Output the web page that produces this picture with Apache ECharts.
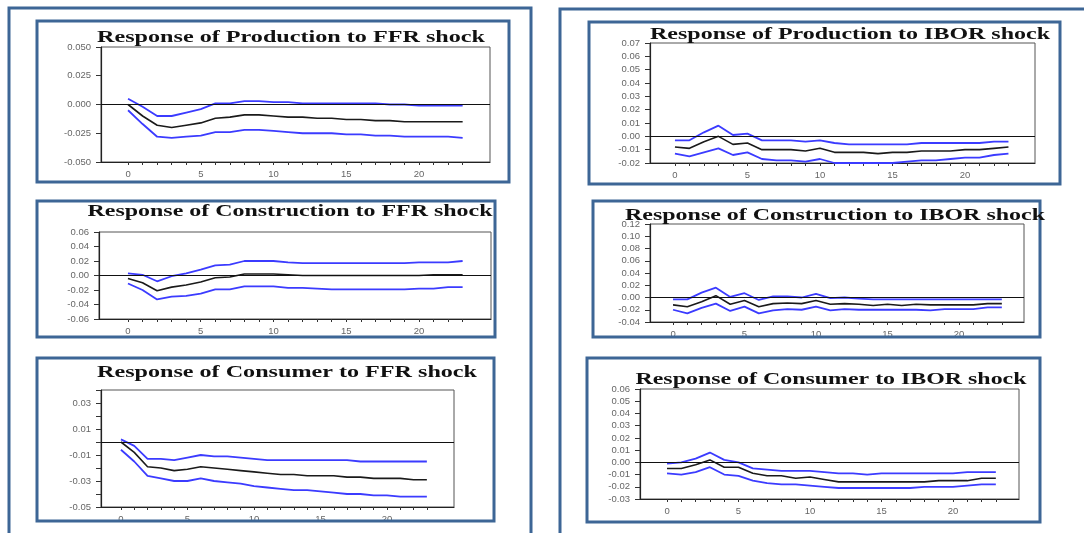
<!DOCTYPE html>
<html>
<head>
<meta charset="utf-8">
<script src="https://cdn.jsdelivr.net/npm/echarts@6/dist/echarts.min.js"></script>
<style>
  html, body { margin: 0; padding: 0; background: #ffffff; }
  #chart { width: 1084px; height: 533px; }
</style>
</head>
<body>
<div id="chart"></div>
<script>
// Impulse-response periods and axis labels
const periods = [0, 1, 2, 3, 4, 5, 6, 7, 8, 9, 10, 11, 12, 13, 14, 15, 16, 17, 18, 19, 20, 21, 22, 23];
const xTickValues = [0, 1, 2, 3, 4, 5, 6, 7, 8, 9, 10, 11, 12, 13, 14, 15, 16, 17, 18, 19, 20, 21, 22, 23];
const xLabelValues = [0, 5, 10, 15, 20];

// Response of Production to FFR shock
const prodFfrUpper = [0.005, -0.002, -0.010, -0.010, -0.007, -0.004, 0.001, 0.001, 0.003, 0.003, 0.002, 0.002, 0.001, 0.001, 0.001, 0.001, 0.001, 0.001, 0.000, 0.000, -0.001, -0.001, -0.001, -0.001];
const prodFfrMid   = [0.000, -0.010, -0.018, -0.020, -0.018, -0.016, -0.012, -0.011, -0.009, -0.009, -0.010, -0.011, -0.011, -0.012, -0.012, -0.013, -0.013, -0.014, -0.014, -0.015, -0.015, -0.015, -0.015, -0.015];
const prodFfrLower = [-0.005, -0.017, -0.028, -0.029, -0.028, -0.027, -0.024, -0.024, -0.022, -0.022, -0.023, -0.024, -0.025, -0.025, -0.025, -0.026, -0.026, -0.027, -0.027, -0.028, -0.028, -0.028, -0.028, -0.029];

// Response of Construction to FFR shock
const constFfrUpper = [0.003, 0.001, -0.008, -0.001, 0.003, 0.008, 0.014, 0.015, 0.020, 0.020, 0.020, 0.018, 0.017, 0.017, 0.017, 0.017, 0.017, 0.017, 0.017, 0.017, 0.018, 0.018, 0.018, 0.020];
const constFfrMid   = [-0.004, -0.010, -0.021, -0.016, -0.013, -0.009, -0.003, -0.002, 0.002, 0.002, 0.002, 0.001, 0.000, 0.000, 0.000, 0.000, 0.000, 0.000, 0.000, 0.000, 0.000, 0.001, 0.001, 0.001];
const constFfrLower = [-0.011, -0.020, -0.033, -0.029, -0.028, -0.025, -0.019, -0.019, -0.015, -0.015, -0.015, -0.017, -0.017, -0.018, -0.019, -0.019, -0.019, -0.019, -0.019, -0.019, -0.018, -0.018, -0.016, -0.016];

// Response of Consumer to FFR shock
const consFfrUpper = [0.002, -0.003, -0.013, -0.013, -0.014, -0.012, -0.010, -0.011, -0.011, -0.012, -0.013, -0.014, -0.014, -0.014, -0.014, -0.014, -0.014, -0.014, -0.015, -0.015, -0.015, -0.015, -0.015, -0.015];
const consFfrMid   = [0.000, -0.008, -0.019, -0.020, -0.022, -0.021, -0.019, -0.020, -0.021, -0.022, -0.023, -0.024, -0.025, -0.025, -0.026, -0.026, -0.026, -0.027, -0.027, -0.028, -0.028, -0.028, -0.029, -0.029];
const consFfrLower = [-0.006, -0.015, -0.026, -0.028, -0.030, -0.030, -0.028, -0.030, -0.031, -0.032, -0.034, -0.035, -0.036, -0.037, -0.037, -0.038, -0.039, -0.040, -0.040, -0.041, -0.041, -0.042, -0.042, -0.042];

// Response of Production to IBOR shock
const prodIborUpper = [-0.003, -0.003, 0.003, 0.008, 0.001, 0.002, -0.003, -0.003, -0.003, -0.004, -0.003, -0.005, -0.006, -0.006, -0.006, -0.006, -0.006, -0.005, -0.005, -0.005, -0.005, -0.005, -0.004, -0.004];
const prodIborMid   = [-0.008, -0.009, -0.004, 0.000, -0.006, -0.005, -0.010, -0.010, -0.010, -0.011, -0.009, -0.012, -0.012, -0.012, -0.013, -0.012, -0.012, -0.011, -0.011, -0.011, -0.010, -0.010, -0.009, -0.008];
const prodIborLower = [-0.013, -0.015, -0.012, -0.009, -0.014, -0.012, -0.017, -0.018, -0.018, -0.019, -0.017, -0.020, -0.020, -0.020, -0.020, -0.020, -0.019, -0.018, -0.018, -0.017, -0.016, -0.016, -0.014, -0.013];

// Response of Construction to IBOR shock
const constIborUpper = [-0.003, -0.003, 0.008, 0.016, 0.001, 0.007, -0.004, 0.002, 0.002, 0.000, 0.006, -0.001, 0.000, -0.002, -0.003, -0.003, -0.003, -0.003, -0.003, -0.003, -0.003, -0.003, -0.003, -0.003];
const constIborMid   = [-0.012, -0.015, -0.007, 0.003, -0.011, -0.005, -0.015, -0.010, -0.009, -0.010, -0.005, -0.011, -0.010, -0.011, -0.013, -0.011, -0.013, -0.011, -0.012, -0.012, -0.012, -0.012, -0.010, -0.010];
const constIborLower = [-0.020, -0.026, -0.017, -0.010, -0.022, -0.015, -0.026, -0.021, -0.019, -0.020, -0.015, -0.021, -0.019, -0.020, -0.020, -0.020, -0.020, -0.020, -0.021, -0.019, -0.019, -0.019, -0.016, -0.016];

// Response of Consumer to IBOR shock
const consIborUpper = [-0.001, 0.000, 0.003, 0.008, 0.002, 0.000, -0.005, -0.006, -0.007, -0.007, -0.007, -0.008, -0.009, -0.009, -0.010, -0.009, -0.009, -0.009, -0.009, -0.009, -0.009, -0.008, -0.008, -0.008];
const consIborMid   = [-0.005, -0.005, -0.002, 0.002, -0.004, -0.004, -0.009, -0.011, -0.011, -0.013, -0.012, -0.014, -0.016, -0.016, -0.016, -0.016, -0.016, -0.016, -0.016, -0.015, -0.015, -0.015, -0.013, -0.013];
const consIborLower = [-0.009, -0.010, -0.008, -0.004, -0.010, -0.011, -0.015, -0.017, -0.018, -0.018, -0.019, -0.020, -0.021, -0.021, -0.021, -0.021, -0.021, -0.021, -0.020, -0.020, -0.020, -0.019, -0.018, -0.018];

// Panel titles
const titles = [
  'Response of Production to FFR shock',
  'Response of Construction to FFR shock',
  'Response of Consumer to FFR shock',
  'Response of Production to IBOR shock',
  'Response of Construction to IBOR shock',
  'Response of Consumer to IBOR shock'
];

// Layout of each panel: frame box, plot area, title placement, axis ranges
const panels = [
  { box: [37, 21, 472, 161], grid: [101, 47, 389, 115], x: [-1.86, 24.88], y: [-0.05, 0.05, 0.025], dec: 3, odd: false,
    title: [291, 38, 388], series: [prodFfrUpper, prodFfrMid, prodFfrLower] },
  { box: [37, 201, 458, 136], grid: [99, 232, 392, 87], x: [-1.99, 24.95], y: [-0.06, 0.06, 0.02], dec: 2, odd: false,
    title: [290, 212, 405], series: [constFfrUpper, constFfrMid, constFfrLower] },
  { box: [37, 358, 457, 163], grid: [101, 390, 353, 117], x: [-1.5, 25.04], y: [-0.05, 0.04, 0.01], dec: 2, odd: true,
    title: [287, 373, 380], series: [consFfrUpper, consFfrMid, consFfrLower] },
  { box: [589, 22, 471, 162], grid: [650, 43, 385, 120], x: [-1.72, 24.83], y: [-0.02, 0.07, 0.01], dec: 2, odd: false,
    title: [850, 35, 400], series: [prodIborUpper, prodIborMid, prodIborLower] },
  { box: [593, 201, 447, 136], grid: [650, 224, 374, 98], x: [-1.61, 24.55], y: [-0.04, 0.12, 0.02], dec: 2, odd: false,
    title: [835, 216, 420], series: [constIborUpper, constIborMid, constIborLower] },
  { box: [587, 358, 453, 164], grid: [640, 389, 379, 110], x: [-1.89, 24.62], y: [-0.03, 0.06, 0.01], dec: 2, odd: false,
    title: [831, 380, 391], series: [consIborUpper, consIborMid, consIborLower] }
];

const frameBlue = '#3d6696';
const bandBlue = '#3b3bff';
const titleFont = 'bold 17px "Liberation Serif", "Times New Roman", serif';
const tickFont = '"Liberation Sans", Arial, sans-serif';

// Width of a string in the title font, used to stretch titles across their panel
const measureCtx = document.createElement('canvas').getContext('2d');
measureCtx.font = titleFont;

const grids = [], xAxes = [], yAxes = [], series = [], graphics = [];

// Outer column frames
graphics.push({ type: 'rect', shape: { x: 9, y: 8, width: 522, height: 560 }, style: { fill: 'none', stroke: frameBlue, lineWidth: 3 }, z: 1 });
graphics.push({ type: 'rect', shape: { x: 560, y: 9, width: 560, height: 560 }, style: { fill: 'none', stroke: frameBlue, lineWidth: 3 }, z: 1 });

panels.forEach((p, i) => {
  graphics.push({ type: 'rect', shape: { x: p.box[0], y: p.box[1], width: p.box[2], height: p.box[3] },
    style: { fill: 'none', stroke: frameBlue, lineWidth: 3 }, z: 1 });

  const natural = measureCtx.measureText(titles[i]).width;
  graphics.push({ type: 'text', x: p.title[0], y: p.title[1], scaleX: p.title[2] / natural, z: 10,
    style: { text: titles[i], font: titleFont, fill: '#111', textAlign: 'center', textVerticalAlign: 'middle' } });

  grids.push({ left: p.grid[0], top: p.grid[1], width: p.grid[2], height: p.grid[3],
    show: true, borderColor: '#555', borderWidth: 1, backgroundColor: 'transparent' });

  xAxes.push({
    type: 'value', gridIndex: i, min: p.x[0], max: p.x[1],
    splitLine: { show: false },
    axisLine: { show: true, onZero: false, lineStyle: { color: '#222', width: 1.2 } },
    axisTick: { show: true, length: 3, customValues: xTickValues, lineStyle: { color: '#333' } },
    axisLabel: { show: true, customValues: xLabelValues, fontSize: 9.5, color: '#666', margin: 7, fontFamily: tickFont }
  });

  const dec = p.dec, odd = p.odd;
  yAxes.push({
    type: 'value', gridIndex: i, min: p.y[0], max: p.y[1], interval: p.y[2],
    splitLine: { show: false },
    axisLine: { show: true, onZero: false, lineStyle: { color: '#222', width: 1.2 } },
    axisTick: { show: true, length: 5, lineStyle: { color: '#333' } },
    axisLabel: { fontSize: 9.5, color: '#666', margin: 10, fontFamily: tickFont,
      formatter: v => {
        if (odd && Math.abs(Math.round(v * 100)) % 2 === 0) return '';
        return v.toFixed(dec);
      } }
  });

  const colors = [bandBlue, '#1a1a1a', bandBlue];
  p.series.forEach((vals, k) => {
    series.push({
      type: 'line', xAxisIndex: i, yAxisIndex: i, silent: true,
      data: periods.map((t, j) => [t, vals[j]]),
      showSymbol: false, symbol: 'none', animation: false,
      lineStyle: { color: colors[k], width: k === 1 ? 1.6 : 1.8 },
      markLine: k === 0 ? { silent: true, symbol: 'none', label: { show: false }, animation: false,
        lineStyle: { color: '#111', width: 1.2, type: 'solid' }, data: [{ yAxis: 0 }] } : undefined
    });
  });
});

const chart = echarts.init(document.getElementById('chart'), null, { renderer: 'canvas' });
chart.setOption({
  backgroundColor: '#ffffff',
  animation: false,
  grid: grids,
  xAxis: xAxes,
  yAxis: yAxes,
  series: series,
  graphic: graphics
});
</script>
</body>
</html>
